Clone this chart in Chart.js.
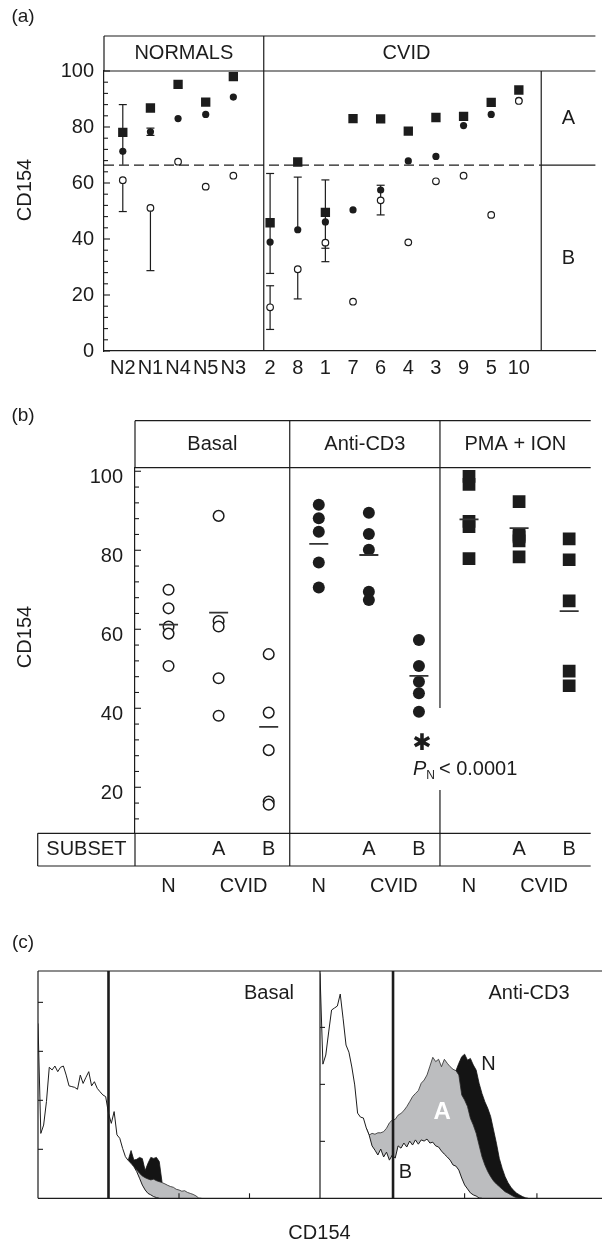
<!DOCTYPE html>
<html>
<head>
<meta charset="utf-8">
<script src="https://cdn.jsdelivr.net/npm/chart.js@4.4.1/dist/chart.umd.min.js"></script>
<style>
  html, body { margin: 0; padding: 0; background: #fff; }
  #page { position: relative; width: 602px; height: 1244px; overflow: hidden; }
  .panel { position: absolute; left: 0; width: 602px; }
</style>
</head>
<body>
<div id="page">
  <div class="panel" style="top:0;height:380px"><canvas id="chartA"></canvas></div>
  <div class="panel" style="top:380px;height:520px"><canvas id="chartB"></canvas></div>
  <div class="panel" style="top:900px;height:344px"><canvas id="chartC1"></canvas></div>
  <div class="panel" style="top:900px;height:344px"><canvas id="chartC2"></canvas></div>
</div>
<script>
// ---------- (a) CD154 per subject ----------
const catsA = ['N2', 'N1', 'N4', 'N5', 'N3', '2', '8', '1', '7', '6', '4', '3', '9', '5', '10'];
const pmaA   = [78.1, 86.8, 95.2, 88.9, 98.0, 45.8, 67.5, 49.5, 83.0, 82.9, 78.5, 83.4, 83.8, 88.8, 93.2];
const cd3A   = [71.3, 78.3, 83.0, 84.5, 90.7, 38.9, 43.3, 46.1, 50.4, 57.5, 67.9, 69.5, 80.5, 84.5, 89.5];
const basalA = [61.0, 51.1, 67.6, 58.7, 62.6, 15.6, 29.2, 38.7, 17.6, 53.8, 38.8, 60.6, 62.6, 48.6, 89.3];
// error bars: [category index, low, high, cap at low, cap at high]
const errBarsA = [
    [0, 66.5, 88.0, false, true],
    [0, 49.8, 61.0, true, false],
    [1, 77.0, 79.6, true, true],
    [1, 28.7, 51.1, true, false],
    [5, 27.7, 63.4, true, true],
    [5, 7.7, 23.3, true, true],
    [6, 43.3, 62.1, false, true],
    [6, 18.6, 29.2, true, false],
    [7, 31.9, 61.1, true, true],
    [7, 36.7, 38.7, true, false],
    [9, 48.6, 59.2, true, true]
];
const cutoffA = 66.4;
const groupsA = ['NORMALS', 'CVID'];
const subsetsA = ['A', 'B'];
const yTicksA = [0, 4, 8, 12, 16, 20, 24, 28, 32, 36, 40, 44, 48, 52, 56, 60, 64, 68, 72, 76, 80, 84, 88, 92, 96, 100];

// ---------- (b) CD154 by stimulus ----------
const stimuliB = ['Basal', 'Anti-CD3', 'PMA + ION'];
const columnsB = ['N', 'A', 'B', 'N', 'A', 'B', 'N', 'A', 'B'];
const basalN     = [70.0, 65.3, 60.7, 58.9, 50.7];
const basalCvidA = [88.7, 62.1, 60.7, 47.6, 38.1];
const basalCvidB = [53.7, 38.9, 29.4, 16.4, 15.6];
const cd3N       = [91.5, 88.1, 84.7, 76.9, 70.6];
const cd3CvidA   = [89.5, 84.1, 80.1, 69.5, 67.4];
const cd3CvidB   = [57.3, 50.7, 46.7, 43.8, 39.1];
const pmaN       = [98.7, 96.7, 87.3, 86.0, 77.9];
const pmaCvidA   = [92.3, 83.8, 83.4, 82.4, 78.3];
const pmaCvidB   = [82.9, 77.6, 67.2, 49.4, 45.7];
const meansB     = [61.2, 64.2, 35.3, 81.6, 78.8, 48.2, 87.8, 85.6, 64.6];
const yTicksB = [12, 16, 20, 24, 28, 32, 36, 40, 44, 48, 52, 56, 60, 64, 68, 72, 76, 80, 84, 88, 92, 96, 100];

// ---------- (c) histograms, x in log decades ----------
const binStep = 0.04;
const basalHistB = [71.4, 26.5, 29.9, 39.5, 53.5, 52.4, 54.0, 51.7, 53.5, 54.0, 50.3, 45.9, 45.6, 45.3, 44.5,
    50.3, 46.9, 49.4, 51.7, 45.9, 47.6, 44.9, 43.5, 42.2, 41.5, 34.7, 30.6, 35.4, 25.9, 24.5, 20.4, 17.0,
    15.4, 14.3, 12.9, 10.9, 8.2, 5.4, 3.4, 2.0, 1.4, 0.7, 0.3, 0];
const basalHistA = [15.4, 14.0, 12.9, 11.6, 10.2, 9.1, 8.4, 7.9, 7.5, 7.8, 7.2, 6.8, 6.4, 5.9, 5.3, 4.8,
    4.5, 3.7, 3.4, 2.9, 3.1, 2.4, 2.0, 1.6, 1.0, 0.1, 0];
const basalHistN = [15.6, 19.5, 15.6, 15.9, 16.7, 16.2, 11.3, 14.3, 16.7, 16.3, 16.7, 15.0, 6.4];
const cd3HistB = [79.0, 47.1, 50.3, 58.4, 66.1, 66.8, 67.5, 71.7, 63.0, 53.8, 51.3, 46.1, 39.8, 29.9, 28.5,
    28.2, 24.7, 22.2, 18.4, 16.9, 15.2, 17.3, 14.5, 16.2, 13.4, 15.2, 14.1, 18.4, 17.6, 19.4, 18.0, 20.1,
    18.7, 20.5, 19.0, 20.5, 20.1, 20.8, 19.4, 19.7, 18.4, 18.0, 16.6, 15.5, 14.5, 13.4, 11.7, 11.3, 9.9,
    7.1, 4.7, 3.3, 1.9, 1.2, 0.8, 0.1, 0];
const cd3HistA = [24.7, 22.2, 22.8, 22.5, 23.0, 23.0, 23.4, 24.6, 26.5, 27.5, 27.7, 29.2, 29.8, 30.8, 32.2,
    33.9, 35.7, 36.8, 37.8, 40.4, 41.5, 43.3, 46.4, 49.5, 48.0, 48.8, 46.2, 48.8, 47.4, 46.2, 45.3, 44.8,
    43.3, 36.3, 34.5, 32.2, 28.1, 25.7, 22.8, 18.7, 14.6, 11.7, 9.4, 7.6, 6.1, 5.0, 4.1, 3.2, 2.3, 1.8,
    1.2, 0.6, 0.2, 0];
const cd3HistN = [44.8, 47.4, 49.7, 50.6, 48.5, 49.1, 46.8, 45.0, 40.4, 36.8, 33.9, 31.6, 28.7, 24.0, 19.3,
    14.0, 10.5, 7.6, 5.5, 3.9, 2.7, 1.8, 1.2, 0.6, 0.2, 0];
const basalStarts = { B: 0, A: 1.28, N: 1.28 };
const cd3Starts = { B: 0, A: 0.64, N: 1.88 };

// ---------- shared style ----------
const ink = '#1c1c1c';
const fontFamily = '"Liberation Sans", Arial, Helvetica, sans-serif';
Chart.defaults.font.family = fontFamily;
Chart.defaults.font.size = 20;
Chart.defaults.color = ink;
Chart.defaults.animation = false;
Chart.defaults.responsive = true;
Chart.defaults.maintainAspectRatio = false;
Chart.defaults.plugins.legend.display = false;
Chart.defaults.plugins.tooltip.enabled = false;

function line(ctx, x1, y1, x2, y2, w, dash) {
    ctx.save();
    ctx.beginPath();
    ctx.lineWidth = w || 1.2;
    ctx.strokeStyle = ink;
    ctx.setLineDash(dash || []);
    ctx.moveTo(x1, y1);
    ctx.lineTo(x2, y2);
    ctx.stroke();
    ctx.restore();
}

function text(ctx, str, x, y, opts) {
    opts = opts || {};
    ctx.save();
    ctx.font = opts.font || ('20px ' + fontFamily);
    ctx.fillStyle = opts.color || ink;
    ctx.textAlign = opts.align || 'center';
    ctx.textBaseline = 'middle';
    ctx.translate(x, y);
    if (opts.rotate) ctx.rotate(opts.rotate);
    ctx.fillText(str, 0, 0);
    ctx.restore();
}

function inwardYTicks(ctx, scale, x, ticks) {
    ticks.forEach(v => {
        const py = scale.getPixelForValue(v);
        line(ctx, x, py, x + (v % 20 === 0 ? 6 : 4), py, 1.1);
    });
}


/* =========================
   Panel (a)
========================= */
const normalsCount = 5;
const groupGap = 0.33;
const posA = catsA.map((c, i) => i + (i >= normalsCount ? groupGap : 0));
const groupDividerA = 5.1;
const subsetDividerA = 15.14;

const overlayA = {
    id: 'overlayA',
    beforeDatasetsDraw(chart) {
        const { ctx, chartArea: a, scales: { x, y } } = chart;
        // error bars sit under the markers
        errBarsA.forEach(([i, lo, hi, capLo, capHi]) => {
            const px = x.getPixelForValue(posA[i]);
            const yLo = y.getPixelForValue(lo), yHi = y.getPixelForValue(hi);
            line(ctx, px, yLo, px, yHi, 1.2);
            if (capLo) line(ctx, px - 4, yLo, px + 4, yLo, 1.2);
            if (capHi) line(ctx, px - 4, yHi, px + 4, yHi, 1.2);
        });
        const yCut = y.getPixelForValue(cutoffA);
        const xSub = x.getPixelForValue(subsetDividerA);
        line(ctx, a.left, yCut, xSub, yCut, 1.2, [10, 5]);
        line(ctx, xSub, yCut, a.right, yCut, 1.2);
    },
    afterDraw(chart) {
        const { ctx, chartArea: a, scales: { x, y } } = chart;
        const boxTop = a.top - 35;
        const xDiv = x.getPixelForValue(groupDividerA);
        const xSub = x.getPixelForValue(subsetDividerA);
        line(ctx, a.left, boxTop, a.right, boxTop);
        line(ctx, a.left, a.top, a.right, a.top);
        line(ctx, a.left, boxTop, a.left, a.top);
        line(ctx, xDiv, boxTop, xDiv, a.bottom);
        line(ctx, xSub, a.top, xSub, a.bottom);
        inwardYTicks(ctx, y, a.left, yTicksA);

        const headY = (boxTop + a.top) / 2;
        text(ctx, groupsA[0], (a.left + xDiv) / 2, headY);
        text(ctx, groupsA[1], (xDiv + xSub) / 2 + 4, headY);
        const yCut = y.getPixelForValue(cutoffA);
        text(ctx, subsetsA[0], (xSub + a.right) / 2, (a.top + yCut) / 2);
        text(ctx, subsetsA[1], (xSub + a.right) / 2, (yCut + a.bottom) / 2);

        text(ctx, '(a)', 23, 17, { font: '19px ' + fontFamily });
        text(ctx, 'CD154', 25, 190, { rotate: -Math.PI / 2 });
    }
};

new Chart(document.getElementById('chartA'), {
    type: 'scatter',
    data: {
        datasets: [
            {
                label: 'Basal',
                data: basalA.map((v, i) => ({ x: posA[i], y: v })),
                pointStyle: 'circle', pointRadius: 3.3,
                pointBackgroundColor: '#fff', pointBorderColor: ink, pointBorderWidth: 1.2
            },
            {
                label: 'Anti-CD3',
                data: cd3A.map((v, i) => ({ x: posA[i], y: v })),
                pointStyle: 'circle', pointRadius: 3.6,
                pointBackgroundColor: ink, pointBorderWidth: 0
            },
            {
                label: 'PMA + ION',
                data: pmaA.map((v, i) => ({ x: posA[i], y: v })),
                pointStyle: 'rect', pointRadius: 6.6,
                pointBackgroundColor: ink, pointBorderWidth: 0
            }
        ]
    },
    options: {
        events: [],
        layout: { padding: { top: 71, left: 0, right: 0, bottom: 0 } },
        scales: {
            x: {
                type: 'linear', min: -0.68, max: 17.1,
                afterBuildTicks: s => { s.ticks = posA.map(v => ({ value: v })); },
                afterFit: s => { s.height = 29; },
                grid: { display: false, drawTicks: false },
                border: { display: true, color: ink, width: 1.2 },
                ticks: { autoSkip: false, maxRotation: 0, padding: 5, callback: (v, i) => catsA[i] }
            },
            y: {
                min: 0, max: 100,
                afterBuildTicks: s => { s.ticks = yTicksA.map(v => ({ value: v })); },
                afterFit: s => { s.width = 104; },
                grid: { display: false, drawTicks: false },
                border: { display: true, color: ink, width: 1.2 },
                ticks: { autoSkip: false, padding: 10, callback: v => (v % 20 === 0 ? v : '') }
            }
        }
    },
    plugins: [overlayA]
});


/* =========================
   Panel (b)
========================= */
const stimulusDividersB = [2.42, 5.42];
const pGapB = [19.3, 40.1];

function columnPoints(col, values) {
    return values.map(v => ({ x: col, y: v }));
}

const overlayB = {
    id: 'overlayB',
    afterDraw(chart) {
        const { ctx, chartArea: a, scales: { x, y } } = chart;
        const boxTop = a.top - 47;
        const rowBottom = a.bottom + 32.7;
        const subsetLeft = 37.7;
        line(ctx, a.left, boxTop, a.right, boxTop);
        line(ctx, a.left, a.top, a.right, a.top);
        line(ctx, a.left, boxTop, a.left, a.top);
        line(ctx, a.left, a.bottom, a.left, rowBottom);
        line(ctx, subsetLeft, a.bottom, a.right, a.bottom);
        line(ctx, subsetLeft, rowBottom, a.right, rowBottom);
        line(ctx, subsetLeft, a.bottom, subsetLeft, rowBottom);

        const edges = [a.left];
        stimulusDividersB.forEach((d, k) => {
            const px = x.getPixelForValue(d);
            edges.push(px);
            if (k === 1) {
                line(ctx, px, boxTop, px, y.getPixelForValue(pGapB[1]));
                line(ctx, px, y.getPixelForValue(pGapB[0]), px, rowBottom);
            } else {
                line(ctx, px, boxTop, px, rowBottom);
            }
        });
        edges.push(a.right);
        stimuliB.forEach((s, k) => text(ctx, s, (edges[k] + edges[k + 1]) / 2, (boxTop + a.top) / 2));

        const rowMid = (a.bottom + rowBottom) / 2;
        text(ctx, 'SUBSET', (subsetLeft + a.left) / 2, rowMid);
        columnsB.forEach((c, i) => {
            if (c !== 'N') text(ctx, c, x.getPixelForValue(i), rowMid);
        });
        for (let g = 0; g < stimuliB.length; g++) {
            text(ctx, 'N', x.getPixelForValue(g * 3), a.bottom + 52.7);
            text(ctx, 'CVID', x.getPixelForValue(g * 3 + 1.5), a.bottom + 52.7);
        }
        inwardYTicks(ctx, y, a.left, yTicksB);

        // significance mark under CVID subset B, anti-CD3
        const px = x.getPixelForValue(5);
        text(ctx, '\u2731', px + 3, y.getPixelForValue(31), { font: 'bold 23px "DejaVu Sans", sans-serif' });
        const py = y.getPixelForValue(24.4);
        let cx = px - 6;
        ctx.save();
        ctx.fillStyle = ink;
        ctx.textBaseline = 'middle';
        ctx.textAlign = 'left';
        ctx.font = 'italic 20px ' + fontFamily;
        ctx.fillText('P', cx, py);
        cx += ctx.measureText('P').width;
        ctx.font = '12px ' + fontFamily;
        ctx.fillText('N', cx, py + 6);
        cx += ctx.measureText('N').width + 4;
        ctx.font = '20px ' + fontFamily;
        ctx.fillText('< 0.0001', cx, py);
        ctx.restore();

        text(ctx, '(b)', 23, 36, { font: '19px ' + fontFamily });
        text(ctx, 'CD154', 25, 257, { rotate: -Math.PI / 2 });
    }
};

new Chart(document.getElementById('chartB'), {
    type: 'scatter',
    data: {
        datasets: [
            {
                label: 'Mean',
                data: meansB.map((v, i) => ({ x: i, y: v })),
                pointStyle: 'line', pointRadius: 9.5,
                pointBorderColor: '#333', pointBorderWidth: 1.8
            },
            {
                label: 'Basal',
                data: [...columnPoints(0, basalN), ...columnPoints(1, basalCvidA), ...columnPoints(2, basalCvidB)],
                pointStyle: 'circle', pointRadius: 5.3,
                pointBackgroundColor: '#fff', pointBorderColor: ink, pointBorderWidth: 1.5
            },
            {
                label: 'Anti-CD3',
                data: [...columnPoints(3, cd3N), ...columnPoints(4, cd3CvidA), ...columnPoints(5, cd3CvidB)],
                pointStyle: 'circle', pointRadius: 6,
                pointBackgroundColor: ink, pointBorderWidth: 0
            },
            {
                label: 'PMA + ION',
                data: [...columnPoints(6, pmaN), ...columnPoints(7, pmaCvidA), ...columnPoints(8, pmaCvidB)],
                pointStyle: 'rect', pointRadius: 9,
                pointBackgroundColor: ink, pointBorderWidth: 0
            }
        ]
    },
    options: {
        events: [],
        layout: { padding: { top: 87.7, left: 0, right: 0, bottom: 66.7 } },
        scales: {
            x: { type: 'linear', min: -0.67, max: 8.43, display: false },
            y: {
                min: 8.35, max: 100.9,
                afterBuildTicks: s => { s.ticks = yTicksB.map(v => ({ value: v })); },
                afterFit: s => { s.width = 135; },
                grid: { display: false, drawTicks: false },
                border: { display: true, color: ink, width: 1.2 },
                ticks: { autoSkip: false, padding: 12, labelOffset: 6, callback: v => (v % 20 === 0 ? v : '') }
            }
        }
    },
    plugins: [overlayB]
});


/* =========================
   Panel (c) histograms
========================= */
function histPoints(start, values) {
    return values.map((v, i) => ({ x: start + i * binStep, y: v }));
}

function histDatasets(starts, b, a, n) {
    return [
        { label: 'B', data: histPoints(starts.B, b), fill: 'origin', backgroundColor: '#ffffff', borderColor: ink, borderWidth: 1, order: 1 },
        { label: 'A', data: histPoints(starts.A, a), fill: 'origin', backgroundColor: '#bcbdbf', borderColor: '#2a2a2a', borderWidth: 0.8, order: 2 },
        { label: 'N', data: histPoints(starts.N, n), fill: 'origin', backgroundColor: '#141414', borderColor: '#141414', borderWidth: 0.8, order: 3 }
    ];
}

function histFrame(cfg) {
    return {
        id: 'frame' + cfg.key,
        afterDraw(chart) {
            const { ctx, chartArea: a, scales: { x, y } } = chart;
            line(ctx, a.left, a.top, a.right, a.top);
            line(ctx, a.left, a.bottom, a.right, a.bottom);
            line(ctx, a.left, a.top, a.left, a.bottom);
            const gx = x.getPixelForValue(cfg.gate);
            line(ctx, gx, a.top, gx, a.bottom, 2.6);
            cfg.yTicks.forEach(v => {
                const py = y.getPixelForValue(v);
                line(ctx, a.left, py, a.left + 5, py, 1.1);
            });
            cfg.xTicks.forEach(v => {
                const px = x.getPixelForValue(v);
                line(ctx, px, a.bottom, px, a.bottom - 5, 1.1);
            });
            text(ctx, cfg.title, cfg.titleX, a.top + 22);
            if (cfg.extra) cfg.extra(ctx, a, x, y);
        }
    };
}

function histChart(id, padding, xMax, yMax, datasets, frame) {
    return new Chart(document.getElementById(id), {
        type: 'line',
        data: { datasets },
        options: {
            events: [],
            layout: { padding },
            elements: { point: { radius: 0 }, line: { tension: 0 } },
            scales: {
                x: { type: 'linear', min: 0, max: xMax, display: false },
                y: { min: 0, max: yMax, display: false }
            }
        },
        plugins: [frame]
    });
}

histChart('chartC1', { top: 71, left: 38, right: 282, bottom: 45.7 }, 4, 92.8,
    histDatasets(basalStarts, basalHistB, basalHistA, basalHistN),
    histFrame({
        key: 'Basal', gate: 1, yTicks: [20, 40, 60, 80], xTicks: [2, 3],
        title: 'Basal', titleX: 269,
        extra(ctx, a) {
            text(ctx, '(c)', 23, 43, { font: '19px ' + fontFamily });
            text(ctx, 'CD154', 319.5, a.bottom + 35);
        }
    }));

histChart('chartC2', { top: 71, left: 320, right: 0, bottom: 45.7 }, 3.9, 79.8,
    histDatasets(cd3Starts, cd3HistB, cd3HistA, cd3HistN),
    histFrame({
        key: 'CD3', gate: 1.01, yTicks: [20, 40, 60], xTicks: [2, 3],
        title: 'Anti-CD3', titleX: 529,
        extra(ctx, a, x, y) {
            text(ctx, 'A', x.getPixelForValue(1.69), y.getPixelForValue(30), { font: 'bold 24px ' + fontFamily, color: '#fff' });
            text(ctx, 'N', x.getPixelForValue(2.33), y.getPixelForValue(47), { font: '20px ' + fontFamily });
            text(ctx, 'B', x.getPixelForValue(1.18), y.getPixelForValue(9), { font: '20px ' + fontFamily });
        }
    }));
</script>
</body>
</html>
